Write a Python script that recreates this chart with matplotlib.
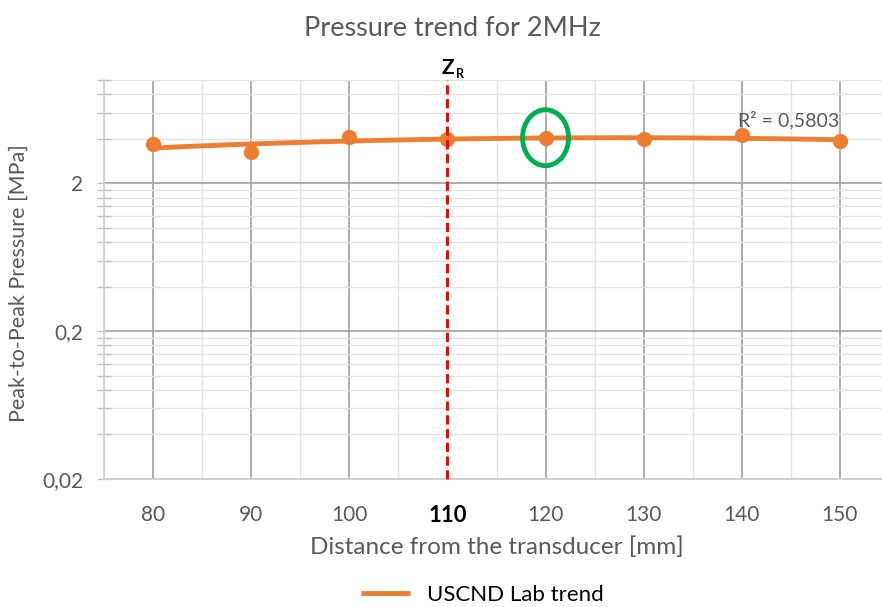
import numpy as np
import matplotlib.pyplot as plt
from matplotlib.patches import Ellipse
from matplotlib.transforms import ScaledTranslation
from matplotlib.ticker import FixedLocator, NullFormatter

plt.rcParams['font.family'] = ['Lato', 'DejaVu Sans']

# data
distance = [80, 90, 100, 110, 120, 130, 140, 150]
pressure = [3.67, 3.25, 4.11, 3.97, 4.07, 3.97, 4.22, 3.84]
x_ticks = [80, 90, 100, 120, 130, 140, 150]
y_ticks = [0.02, 0.2, 2]
y_labels = ["0,02", "0,2", "2"]
z_r = 110
circled = 120

ORANGE = "#ED7D31"
GRAY = "#595959"

fig = plt.figure(figsize=(8.82, 6.07), dpi=100)
ax = fig.add_axes([104/882, 1-479/607, 785/882, 399/607])

# polynomial trend line (order 2) like the spreadsheet one
coef = np.polyfit(distance, pressure, 2)
xs = np.linspace(distance[0], distance[-1], 200)
ax.plot(xs, np.polyval(coef, xs), color=ORANGE, lw=3.5, label="USCND Lab trend",
        solid_capstyle="butt", zorder=3)
ax.plot(distance, pressure, "o", color=ORANGE, ms=10, zorder=4)

ax.set_yscale("log")
ax.set_xlim(75, 155)
ax.set_ylim(0.02, 10)

# ticks / grid
ax.xaxis.set_major_locator(FixedLocator(x_ticks))
ax.xaxis.set_minor_locator(FixedLocator(np.arange(75, 156, 5)))
ax.yaxis.set_major_locator(FixedLocator(y_ticks))
minor_y = [0.02 * k * 10**e for e in range(3) for k in range(2, 10)]
minor_y = [v for v in minor_y if v <= 10.01]
ax.yaxis.set_minor_locator(FixedLocator(minor_y))
ax.yaxis.set_minor_formatter(NullFormatter())
ax.set_yticklabels(y_labels)

ax.grid(which="major", color="#a6a6a6", lw=1.3)
ax.grid(which="minor", color="#e3e3e3", lw=1.0)
ax.set_axisbelow(True)

ax.tick_params(axis="x", which="both", length=0, pad=19, labelsize=15, labelcolor=GRAY)
ax.tick_params(axis="y", which="both", direction="inout", length=10, width=1,
               color="#bfbfbf", pad=10, labelsize=15, labelcolor=GRAY)

for s in ["top", "right"]:
    ax.spines[s].set_visible(False)
ax.spines["left"].set_color("#d0d0d0")
ax.spines["bottom"].set_color("#d0d0d0")
ax.spines["left"].set_linewidth(1.3)
ax.spines["bottom"].set_linewidth(1.3)

# Z_R dashed line
ax.axvline(z_r, color="#ff0000", lw=2.2, ls=(0, (3, 1.5)), zorder=5, clip_on=False)
ax.text(z_r, 1.005, "Z", transform=ax.get_xaxis_transform(), ha="center", va="bottom",
        fontsize=15, fontweight="bold", color="black")
ax.text(z_r + 0.9, 1.0, "R", transform=ax.get_xaxis_transform(), ha="left", va="bottom",
        fontsize=9, fontweight="bold", color="black")
ax.text(z_r, -0.065, "110", transform=ax.get_xaxis_transform(), ha="center", va="top",
        fontsize=16, fontweight="bold", color="black")

# green circle around the 120 mm point
idx = distance.index(circled)
tr = fig.dpi_scale_trans + ScaledTranslation(circled, pressure[idx], ax.transData)
ax.add_patch(Ellipse((0, 0), 0.46, 0.56, transform=tr, fill=False,
                     edgecolor="#00B050", lw=3.5, zorder=6))

ax.text(139.6, 4.6, "R² = 0,5803", ha="left", va="bottom", fontsize=14, color=GRAY)

fig.text(452/882, 1-28/607, "Pressure trend for 2MHz", ha="center", va="center",
         fontsize=19.5, color=GRAY)
ax.set_xlabel("Distance from the transducer [mm]", fontsize=17.5, color=GRAY, labelpad=8)
ax.set_ylabel("Peak-to-Peak Pressure [MPa]", fontsize=15.5, color=GRAY)
ax.yaxis.set_label_coords(-(104 - 29) / 785, 0.49)

fig.legend(loc="center", bbox_to_anchor=(0.547, 12/607), frameon=False,
           fontsize=16, labelcolor="black", handlelength=2.2)

fig.savefig("out.png", dpi=100)
